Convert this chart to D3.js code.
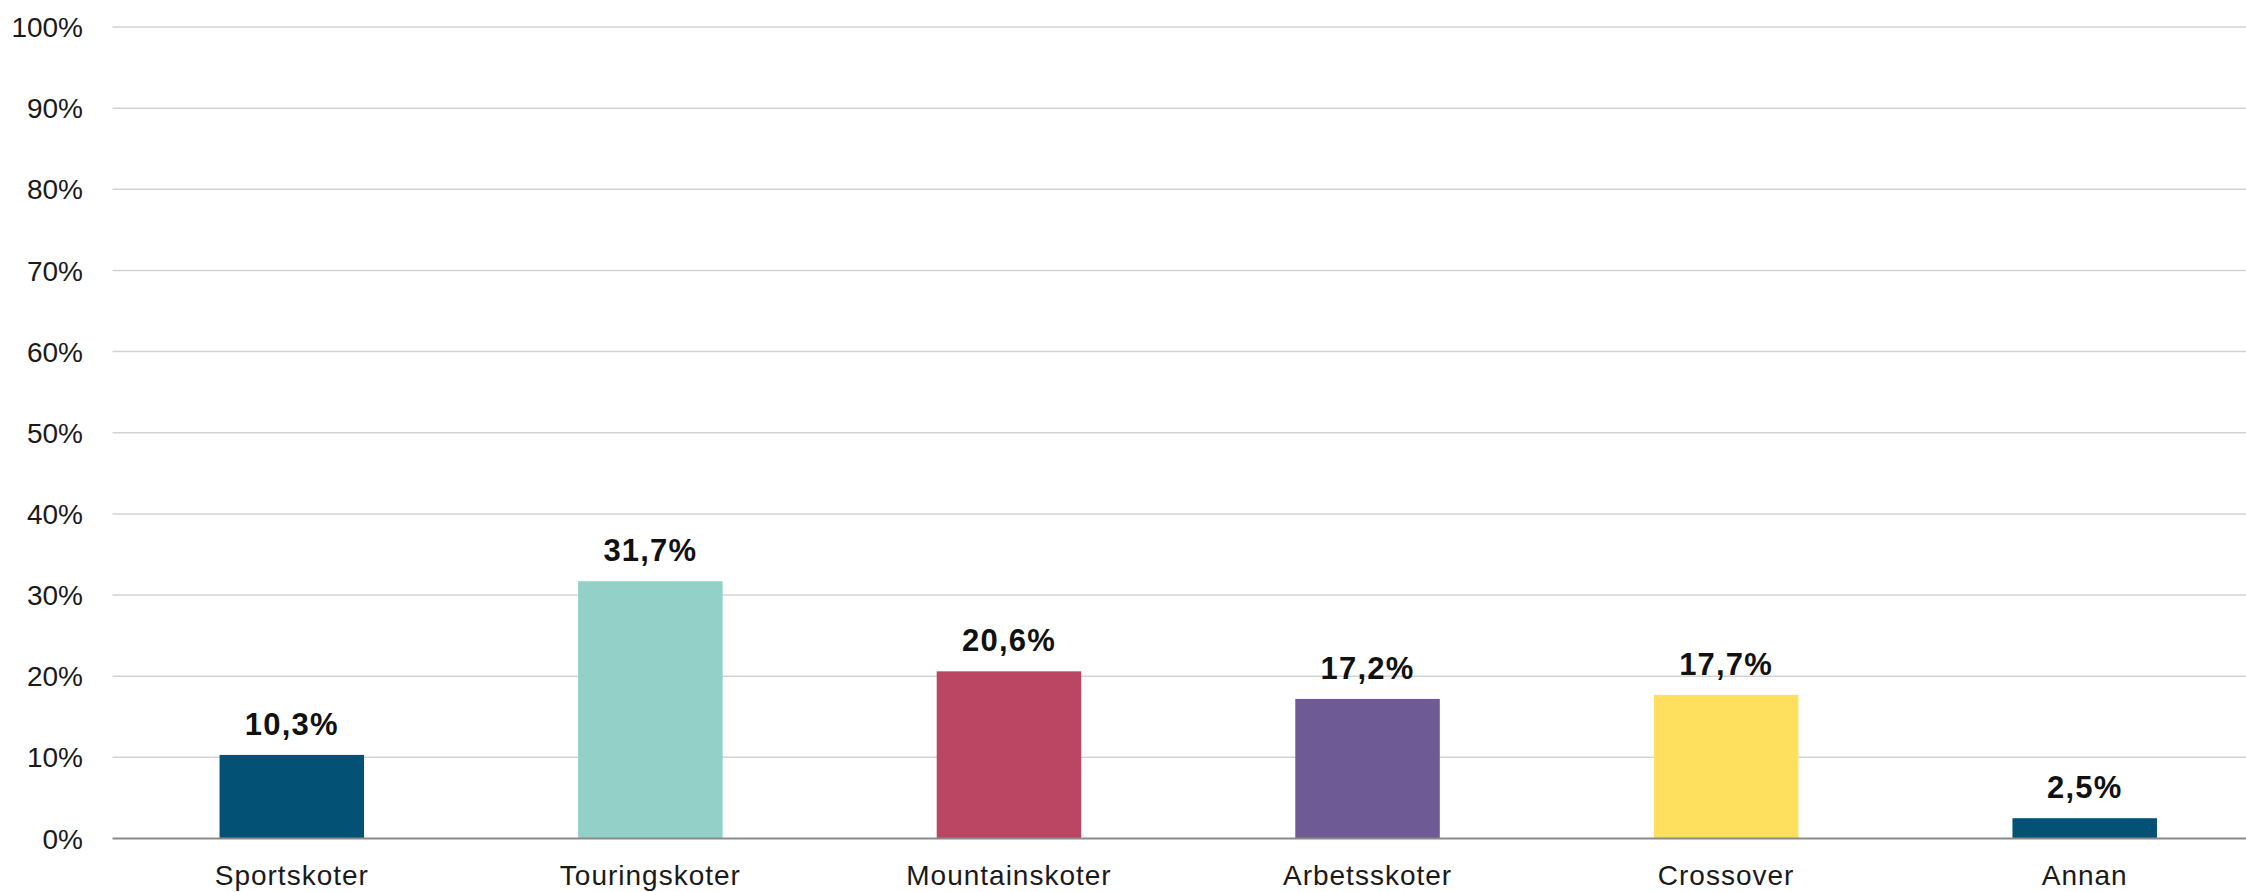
<!DOCTYPE html>
<html>
<head>
<meta charset="utf-8">
<script src="https://cdn.jsdelivr.net/npm/d3@7"></script>
<style>
  html, body { margin: 0; padding: 0; background: #ffffff; }
  svg { display: block; font-family: "Liberation Sans", Arial, sans-serif; }
</style>
</head>
<body>
<svg id="chart" width="2246" height="892"></svg>
<script>
const categories = ["Sportskoter", "Touringskoter", "Mountainskoter", "Arbetsskoter", "Crossover", "Annan"];
const values = [10.3, 31.7, 20.6, 17.2, 17.7, 2.5];
const valueLabels = ["10,3%", "31,7%", "20,6%", "17,2%", "17,7%", "2,5%"];
const barColors = ["#035276", "#92D0C8", "#BA4663", "#6E5A94", "#FEDF5E", "#035276"];
const yTicks = [0, 10, 20, 30, 40, 50, 60, 70, 80, 90, 100];
const yTickLabels = ["0%", "10%", "20%", "30%", "40%", "50%", "60%", "70%", "80%", "90%", "100%"];

const svg = d3.select("#chart");
const plotLeft = 112.5, plotRight = 2264, plotTop = 27, plotBottom = 838.5;

const x = d3.scaleBand().domain(categories).range([plotLeft, plotRight])
  .paddingInner(0.597).paddingOuter(0.2985);
const y = d3.scaleLinear().domain([0, 100]).range([plotBottom, plotTop]);

// gridlines
svg.append("g").selectAll("line").data(yTicks.filter(d => d !== 0)).join("line")
  .attr("x1", plotLeft).attr("x2", 2246)
  .attr("y1", d => y(d)).attr("y2", d => y(d))
  .attr("stroke", "#d3d3d3").attr("stroke-width", 1.5);

// y tick labels
svg.append("g").selectAll("text").data(yTicks).join("text")
  .attr("x", 83).attr("y", d => y(d)).attr("dy", "0.36em")
  .attr("text-anchor", "end")
  .attr("font-size", 28).attr("fill", "#1a1a1a")
  .text((d, i) => yTickLabels[i]);

// bars
svg.append("g").selectAll("rect").data(values).join("rect")
  .attr("x", (d, i) => x(categories[i]))
  .attr("width", x.bandwidth())
  .attr("y", d => y(d))
  .attr("height", d => plotBottom - y(d))
  .attr("fill", (d, i) => barColors[i]);

// baseline
svg.append("line").attr("x1", plotLeft).attr("x2", 2246)
  .attr("y1", plotBottom).attr("y2", plotBottom)
  .attr("stroke", "#8a8a8a").attr("stroke-width", 2);

// value labels
svg.append("g").selectAll("text").data(values).join("text")
  .attr("x", (d, i) => x(categories[i]) + x.bandwidth() / 2)
  .attr("y", d => y(d) - 20)
  .attr("text-anchor", "middle")
  .attr("font-size", 31).attr("font-weight", "bold")
  .attr("letter-spacing", 1.2)
  .attr("fill", "#111")
  .text((d, i) => valueLabels[i]);

// category labels
svg.append("g").selectAll("text").data(categories).join("text")
  .attr("x", d => x(d) + x.bandwidth() / 2)
  .attr("y", plotBottom + 46)
  .attr("text-anchor", "middle")
  .attr("font-size", 28).attr("letter-spacing", 1)
  .attr("fill", "#1a1a1a")
  .text(d => d);
</script>
</body>
</html>
